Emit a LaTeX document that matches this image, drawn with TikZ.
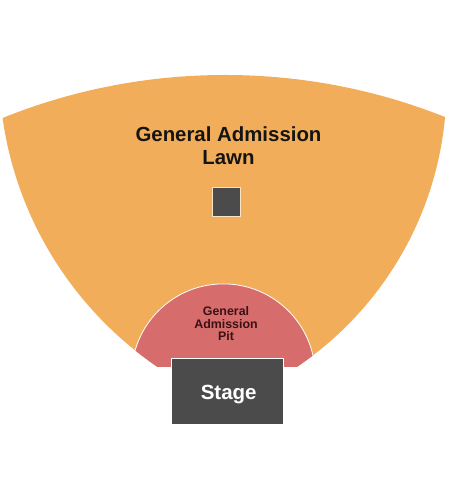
\documentclass[tikz,border=0pt]{standalone}
\usepackage{fontspec}
\setmainfont{Liberation Sans}
\definecolor{lawn}{HTML}{F2AD5A}
\definecolor{pitc}{HTML}{D66C6C}
\definecolor{stagec}{HTML}{4B4B4B}
\definecolor{pittext}{HTML}{3A1214}
\definecolor{cream}{HTML}{F8E4C4}
\begin{document}
\begin{tikzpicture}[x=1pt,y=1pt,
  bigtext/.style={font=\bfseries\fontsize{20.4}{23}\selectfont, text=black!92, anchor=base, inner sep=0pt},
  pitlabel/.style={font=\bfseries\fontsize{12.4}{14}\selectfont, text=pittext, anchor=base, inner sep=0pt},
  stagelabel/.style={font=\bfseries\fontsize{20.5}{24}\selectfont, text=white, anchor=base, inner sep=0pt},
  darkbox/.style={fill=stagec, inner sep=0pt, anchor=center}]
\useasboundingbox (0,0) rectangle (450,500);
% seating areas
\begin{scope}
  \clip (225,-169.6) circle[radius=594.6];
  \clip (362,433) circle[radius=363];
  \clip (107,414.5) circle[radius=339.5];
  \clip (0,133) rectangle (450,500);
  \fill[lawn] (0,0) rectangle (450,500);
  \fill[pitc, draw=white, line width=0.8pt] (223.4,124.3) circle[radius=91.8];
\end{scope}
% lawn labels
\node[bigtext] (lawn1) at (228.5,358) {General Admission};
\node[bigtext] (lawn2) at (228.5,335) {Lawn};
\node[darkbox, draw=cream, line width=1pt, minimum width=28pt, minimum height=29pt] (sq) at (226.5,298) {};
% pit labels
\node[pitlabel] (pit1) at (226,184.3) {General};
\node[pitlabel] (pit2) at (226,171.7) {Admission};
\node[pitlabel] (pit3) at (226,159.3) {Pit};
% stage
\node[darkbox, draw=white, line width=0.5pt, minimum width=112pt, minimum height=66pt] (stage) at (227,109) {};
\node[stagelabel] (stagetext) at (228.7,100) {Stage};
\end{tikzpicture}
\end{document}
